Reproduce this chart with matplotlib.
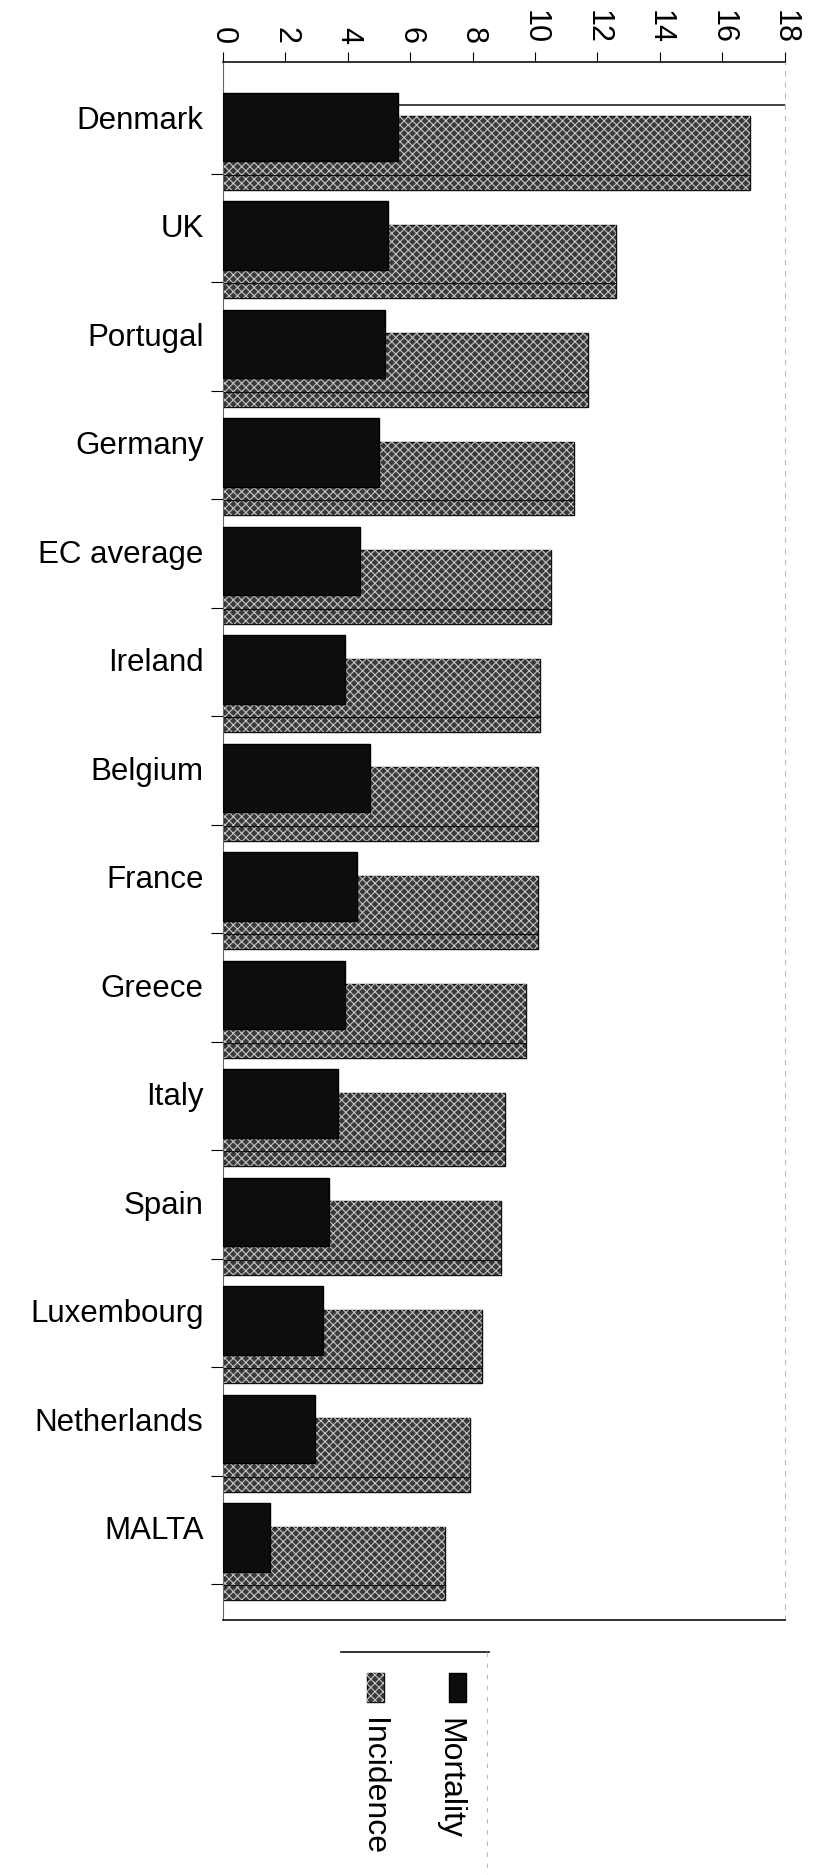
import matplotlib
matplotlib.use("Agg")
import matplotlib.pyplot as plt
from matplotlib.patches import Rectangle
from matplotlib.lines import Line2D
import numpy as np

countries = ["Denmark", "UK", "Portugal", "Germany", "EC average", "Ireland",
             "Belgium", "France", "Greece", "Italy", "Spain", "Luxembourg",
             "Netherlands", "MALTA"]
mortality = [5.6, 5.3, 5.2, 5.0, 4.4, 3.9, 4.7, 4.3, 3.9, 3.7, 3.4, 3.2, 2.95, 1.5]
incidence = [16.9, 12.6, 11.7, 11.25, 10.5, 10.15, 10.1, 10.1, 9.7, 9.05, 8.9, 8.3, 7.9, 7.1]
xticks = [0, 2, 4, 6, 8, 10, 12, 14, 16, 18]
series_names = ["Mortality", "Incidence"]

plt.rcParams['font.family'] = ['Liberation Sans', 'DejaVu Sans']
plt.rcParams['hatch.linewidth'] = 0.8
plt.rcParams['hatch.color'] = '#c4c4c4'

fig = plt.figure(figsize=(8.14, 18.75), dpi=100)
ax = fig.add_axes([0.274, 0.136, 0.69, 0.831])

y = np.arange(len(countries))
inc_gray = '#3a3a3a'
HATCH = 'xxxx'

# back wall line
ax.axhline(-0.11, color='#222222', lw=1.2, zorder=0.5)

# incidence depth strip
ax.barh(y + 0.60, incidence, height=0.14, color=inc_gray, edgecolor='#111111', lw=1.0, zorder=1)
ax.barh(y + 0.60, incidence, height=0.14, facecolor='none', hatch=HATCH, lw=0, zorder=1.1)
# incidence front face
ax.barh(y + 0.26, incidence, height=0.54, color=inc_gray, edgecolor='#111111', lw=1.0, zorder=2)
ax.barh(y + 0.26, incidence, height=0.54, facecolor='none', hatch=HATCH, lw=0, zorder=2.1)
# mortality
ax.barh(y + 0.09, mortality, height=0.63, color='#0d0d0d', edgecolor='#000000', lw=1.0, zorder=3)

ax.set_xlim(0, 18)
ax.set_ylim(13.85, -0.51)
ax.xaxis.tick_top()
ax.set_xticks(xticks)
ax.set_xticklabels([str(t) for t in xticks], rotation=-90, fontsize=22)
ax.tick_params(axis='x', direction='out', length=7, width=0.8, pad=6)

ax.set_yticks(y)
ax.set_yticklabels(countries, fontsize=22.5)
ax.tick_params(axis='y', which='major', length=0, pad=14)
ax.set_yticks(y + 0.52, minor=True)
ax.tick_params(axis='y', which='minor', length=9, width=0.8, direction='out')

for s in ['top', 'bottom']:
    ax.spines[s].set_color('#111111')
    ax.spines[s].set_linewidth(1.2)
ax.spines['left'].set_color('#666666')
ax.spines['left'].set_linewidth(0.8)
ax.spines['right'].set_color('#bbbbbb')
ax.spines['right'].set_linestyle((0, (4, 6)))
ax.spines['right'].set_linewidth(0.8)

# legend (rotated)
fig.add_artist(Line2D([0.419, 0.601], [0.119, 0.119], color='#111111', lw=1.2,
                      transform=fig.transFigure))
fig.add_artist(Line2D([0.598, 0.598], [0.119, 0.0], color='#bbbbbb', lw=0.8,
                      ls=(0, (4, 6)), transform=fig.transFigure))
sw_w, sw_h = 0.021, 0.0154
fig.add_artist(Rectangle((0.552, 0.0923), sw_w, sw_h, facecolor='#0d0d0d',
                         edgecolor='black', transform=fig.transFigure))
fig.add_artist(Rectangle((0.451, 0.0923), sw_w, sw_h, facecolor=inc_gray,
                         edgecolor='#111111', transform=fig.transFigure))
fig.add_artist(Rectangle((0.451, 0.0923), sw_w, sw_h, facecolor='none', hatch=HATCH,
                         lw=0, transform=fig.transFigure))
fig.text(0.552, 0.0837, series_names[0], rotation=-90, ha='center', va='top', fontsize=23)
fig.text(0.458, 0.0837, series_names[1], rotation=-90, ha='center', va='top', fontsize=23)

fig.savefig("out.png", dpi=100)
